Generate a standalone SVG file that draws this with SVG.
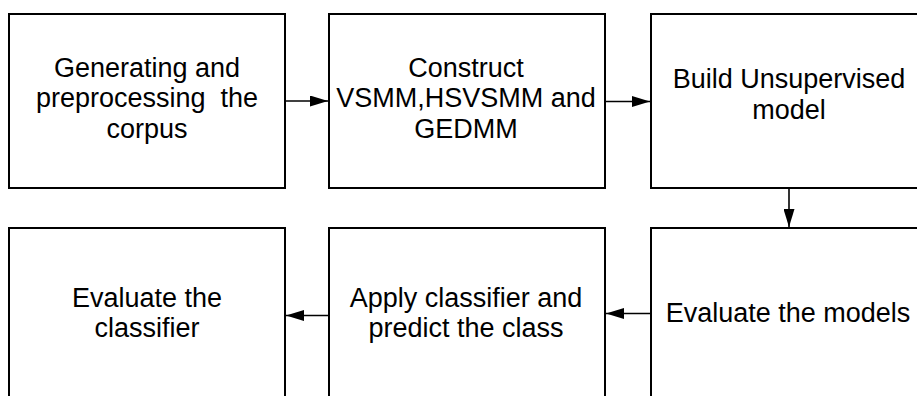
<svg xmlns="http://www.w3.org/2000/svg" width="917" height="396" viewBox="0 0 917 396">
<defs>
<style>
.box{fill:#fff;stroke:#000;stroke-width:2}
.lbl{font-family:"Liberation Sans",Arial,sans-serif;font-size:27px;fill:#000;text-anchor:middle;white-space:pre}
.conn{stroke:#000;stroke-width:1.6;fill:none}
</style>
<marker id="ah" viewBox="0 0 18 11" refX="18" refY="5.5" markerWidth="18" markerHeight="11" markerUnits="userSpaceOnUse" orient="auto">
<path d="M0,0 L18,5.5 L0,11 Z" fill="#000"/>
</marker>
</defs>
<rect width="917" height="396" fill="#fff"/>
<g id="connectors">
<line class="conn" x1="286" y1="101" x2="328" y2="101" marker-end="url(#ah)"/>
<line class="conn" x1="606" y1="101.5" x2="650" y2="101.5" marker-end="url(#ah)"/>
<line class="conn" x1="789" y1="189" x2="789" y2="227" marker-end="url(#ah)"/>
<line class="conn" x1="650" y1="313.5" x2="606" y2="313.5" marker-end="url(#ah)"/>
<line class="conn" x1="328" y1="315.5" x2="286" y2="315.5" marker-end="url(#ah)"/>
</g>
<g id="n1">
<rect class="box" x="9" y="14" width="276" height="174"/>
<text class="lbl" x="147" y="76.7">Generating and</text>
<text class="lbl" x="147" y="107.2" xml:space="preserve">preprocessing  the</text>
<text class="lbl" x="147" y="137.7">corpus</text>
</g>
<g id="n2">
<rect class="box" x="329" y="14" width="276" height="174"/>
<text class="lbl" x="466" y="76.7">Construct</text>
<text class="lbl" x="466" y="107.2">VSMM,HSVSMM and</text>
<text class="lbl" x="466" y="137.7">GEDMM</text>
</g>
<g id="n3">
<rect class="box" x="651" y="14" width="276" height="174"/>
<text class="lbl" x="789" y="88">Build Unsupervised</text>
<text class="lbl" x="789" y="118.5">model</text>
</g>
<g id="n4">
<rect class="box" x="651" y="228" width="276" height="174"/>
<text class="lbl" x="788" y="321.7">Evaluate the models</text>
</g>
<g id="n5">
<rect class="box" x="329" y="228" width="276" height="174"/>
<text class="lbl" x="466" y="306.5">Apply classifier and</text>
<text class="lbl" x="466" y="337">predict the class</text>
</g>
<g id="n6">
<rect class="box" x="9" y="228" width="276" height="174"/>
<text class="lbl" x="147" y="306.5">Evaluate the</text>
<text class="lbl" x="147" y="337">classifier</text>
</g>
</svg>
